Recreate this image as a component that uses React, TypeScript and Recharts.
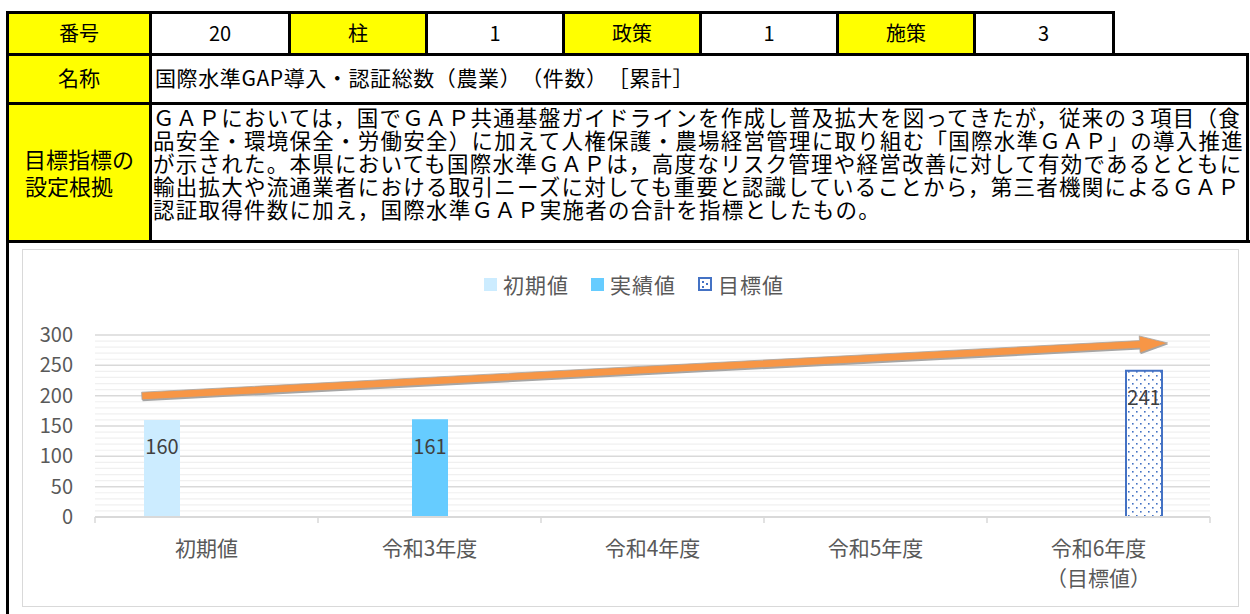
import React from "react";
import {
  BarChart,
  Bar,
  XAxis,
  YAxis,
  CartesianGrid,
  ReferenceLine,
  LabelList,
} from "recharts";

// ---- data ----
const categories = ["初期値", "令和3年度", "令和4年度", "令和5年度", "令和6年度\n（目標値）"];
const initialValues = [160, null, null, null, null];
const actualValues = [null, 161, null, null, null];
const targetValues = [null, null, null, null, 241];
const yTicks = [0, 10, 20, 30, 40, 50, 60, 70, 80, 90, 100, 110, 120, 130, 140, 150, 160, 170, 180, 190, 200, 210, 220, 230, 240, 250, 260, 270, 280, 290, 300];
// trend arrow: value at the first / last category centre, and how far (in bands) it runs past them
const arrowValues = [205, 281];
const arrowOverhang = [0.29, 0.31];

const headerCells = [
  ["番号", "20"],
  ["柱", "1"],
  ["政策", "1"],
  ["施策", "3"],
];
const nameText = "国際水準GAP導入・認証総数（農業）（件数）［累計］";
const reasonLines = [
  "ＧＡＰにおいては，国でＧＡＰ共通基盤ガイドラインを作成し普及拡大を図ってきたが，従来の３項目（食",
  "品安全・環境保全・労働安全）に加えて人権保護・農場経営管理に取り組む「国際水準ＧＡＰ」の導入推進",
  "が示された。本県においても国際水準ＧＡＰは，高度なリスク管理や経営改善に対して有効であるとともに",
  "輸出拡大や流通業者における取引ニーズに対しても重要と認識していることから，第三者機関によるＧＡＰ",
  "認証取得件数に加え，国際水準ＧＡＰ実施者の合計を指標としたもの。",
];

const data = categories.map((name, i) => ({
  name,
  initial: initialValues[i],
  actual: actualValues[i],
  target: targetValues[i],
}));

const FONT = '"Noto Sans CJK JP", "Noto Sans", sans-serif';
const YELLOW = "#ffff00";
const LIGHT = "#ccecff";
const MID = "#66ccff";
const BLUE = "#4472c4";
const TEXT = "#595959";
const AXIS = "#d9d9d9";

const cellBase: React.CSSProperties = {
  boxSizing: "border-box",
  height: "100%",
  display: "flex",
  alignItems: "center",
  justifyContent: "center",
  fontSize: 20,
};

// category label + Excel-style tick marks on the band edges
const CategoryTick = (props: any) => {
  const { x, y, payload, index, visibleTicksCount } = props;
  const half = payload && payload.offset ? payload.offset : 0;
  const lines = String(payload.value).split("\n");
  return (
    <g>
      <line x1={x - half} x2={x - half} y1={y} y2={y + 6} stroke={AXIS} strokeWidth={1.5} />
      {index === visibleTicksCount - 1 && (
        <line x1={x + half} x2={x + half} y1={y} y2={y + 6} stroke={AXIS} strokeWidth={1.5} />
      )}
      <text x={x} y={y} textAnchor="middle" fill={TEXT} fontSize={21} fontFamily={FONT}>
        {lines.map((l, i) => (
          <tspan key={i} x={x} dy={i === 0 ? 39 : 30}>
            {l}
          </tspan>
        ))}
      </text>
    </g>
  );
};

const renderArrow = (props: any) => {
  const { x1, y1, x2, y2 } = props;
  const band = (x2 - x1) / (categories.length - 1);
  const slope = (y2 - y1) / (x2 - x1);
  const sx = x1 - arrowOverhang[0] * band;
  const ex = x2 + arrowOverhang[1] * band;
  const sy = y1 + slope * (sx - x1);
  const ey = y1 + slope * (ex - x1);
  const dx = ex - sx;
  const dy = ey - sy;
  const len = Math.sqrt(dx * dx + dy * dy) || 1;
  const ux = dx / len;
  const uy = dy / len;
  const nx = -uy;
  const ny = ux;
  const headLen = 28;
  const shaft = 3.8;
  const head = 8.5;
  const bx = ex - ux * headLen;
  const by = ey - uy * headLen;
  const pts = [
    [sx + nx * shaft, sy + ny * shaft],
    [bx + nx * shaft, by + ny * shaft],
    [bx + nx * head, by + ny * head],
    [ex, ey],
    [bx - nx * head, by - ny * head],
    [bx - nx * shaft, by - ny * shaft],
    [sx - nx * shaft, sy - ny * shaft],
  ]
    .map((p) => p.join(","))
    .join(" ");
  return (
    <g>
      <polygon points={pts} fill="#a6a6a6" transform="translate(0.6,1.4)" />
      <polygon points={pts} fill="#f79646" stroke="#a6a6a6" strokeWidth={0.8} />
    </g>
  );
};

const LegendItem = ({ label, kind }: { label: string; kind: string }) => (
  <div style={{ display: "flex", alignItems: "center", marginRight: 22 }}>
    {kind === "pattern" ? (
      <svg width={14} height={14} style={{ marginRight: 6 }}>
        <rect x={1} y={1} width={12} height={12} fill="#fff" stroke={BLUE} strokeWidth={2} />
        <rect x={4} y={4} width={2} height={2} fill={BLUE} />
        <rect x={8} y={6} width={2} height={2} fill={BLUE} />
        <rect x={4} y={9} width={2} height={2} fill={BLUE} />
      </svg>
    ) : (
      <div style={{ width: 13, height: 13, background: kind, marginRight: 6 }} />
    )}
    <span style={{ fontSize: 21, color: TEXT, letterSpacing: 1 }}>{label}</span>
  </div>
);

export default function App() {
  return (
    <div
      style={{
        position: "relative",
        width: 1250,
        height: 614,
        fontFamily: FONT,
        overflow: "hidden",
        textSpacingTrim: "space-all",
      } as React.CSSProperties}
    >
      <style>{"body{margin:0}"}</style>

      {/* row 1 */}
      <div
        style={{
          position: "absolute",
          left: 6,
          top: 11,
          width: 1109,
          height: 45,
          boxSizing: "border-box",
          border: "3px solid #000",
          borderBottom: "none",
          display: "flex",
        }}
      >
        {headerCells.map(([label, value], i) => (
          <React.Fragment key={label}>
            <div
              style={{
                ...cellBase,
                width: i === 0 ? 140 : 137,
                background: YELLOW,
                paddingBottom: 5,
                borderLeft: i === 0 ? "none" : "3px solid #000",
              }}
            >
              {label}
            </div>
            <div
              style={{
                ...cellBase,
                width: i === 0 ? 139 : i === 3 ? 138 : 137,
                paddingBottom: 5,
                borderLeft: "3px solid #000",
              }}
            >
              {value}
            </div>
          </React.Fragment>
        ))}
      </div>

      {/* row 2 */}
      <div
        style={{
          position: "absolute",
          left: 6,
          top: 53,
          width: 1243,
          height: 52,
          boxSizing: "border-box",
          border: "3px solid #000",
          borderBottom: "none",
          display: "flex",
        }}
      >
        <div style={{ ...cellBase, width: 140, background: YELLOW, fontSize: 21, paddingBottom: 8 }}>名称</div>
        <div
          style={{
            ...cellBase,
            flex: 1,
            justifyContent: "flex-start",
            paddingLeft: 3,
            paddingBottom: 8,
            borderLeft: "3px solid #000",
            fontSize: 21,
            letterSpacing: 0.6,
          }}
        >
          {nameText}
        </div>
      </div>

      {/* row 3 */}
      <div
        style={{
          position: "absolute",
          left: 6,
          top: 102,
          width: 1243,
          height: 141,
          boxSizing: "border-box",
          border: "3px solid #000",
          borderBottom: "none",
          display: "flex",
        }}
      >
        <div
          style={{
            ...cellBase,
            width: 140,
            background: YELLOW,
            fontSize: 22,
            flexDirection: "column",
            lineHeight: "27px",
            paddingBottom: 4,
          }}
        >
          <div>目標指標の</div>
          <div style={{ alignSelf: "flex-start", paddingLeft: 16 }}>設定根拠</div>
        </div>
        <div
          style={{
            boxSizing: "border-box",
            flex: 1,
            borderLeft: "3px solid #000",
            paddingLeft: 1,
            paddingTop: 1,
            fontSize: 21.5,
            letterSpacing: 1.25,
            lineHeight: "22.9px",
            whiteSpace: "nowrap",
          }}
        >
          {reasonLines.map((l) => (
            <div key={l}>{l}</div>
          ))}
        </div>
      </div>

      {/* row 4: chart */}
      <div
        style={{
          position: "absolute",
          left: 6,
          top: 240,
          width: 1244,
          height: 380,
          boxSizing: "border-box",
          borderTop: "3px solid #000",
          borderLeft: "3px solid #000",
        }}
      />
      <div
        style={{
          position: "absolute",
          left: 22,
          top: 249,
          width: 1217,
          height: 358,
          boxSizing: "border-box",
          border: "1px solid " + AXIS,
          background: "#fff",
        }}
      >
        <div
          style={{
            position: "absolute",
            left: 461,
            top: 19,
            display: "flex",
            alignItems: "center",
          }}
        >
          <LegendItem label="初期値" kind={LIGHT} />
          <LegendItem label="実績値" kind={MID} />
          <LegendItem label="目標値" kind="pattern" />
        </div>
        <BarChart
          width={1215}
          height={356}
          data={data}
          margin={{ top: 85, right: 28, bottom: 0, left: 0 }}
          barGap={9}
          barSize={36}
          style={{ fontFamily: FONT }}
        >
          <defs>
            <pattern id="dots" width={8} height={8} patternUnits="userSpaceOnUse">
              <rect width={8} height={8} fill="#fff" />
              <rect x={1} y={1} width={1.6} height={1.6} fill={BLUE} />
              <rect x={5} y={5} width={1.6} height={1.6} fill={BLUE} />
            </pattern>
          </defs>
          <CartesianGrid
            vertical={false}
            horizontal={(p: any) => (
              <line
                key={p.key}
                x1={p.x1}
                y1={p.y1}
                x2={p.x2}
                y2={p.y2}
                stroke={p.index % 5 === 0 ? AXIS : "#f0f0f0"}
                strokeWidth={p.index % 5 === 0 ? 1.5 : 1.2}
              />
            )}
          />
          <XAxis
            dataKey="name"
            height={89}
            axisLine={{ stroke: AXIS, strokeWidth: 2 }}
            tickLine={false}
            tickSize={0}
            tickMargin={0}
            interval={0}
            tick={<CategoryTick />}
          />
          <YAxis
            domain={[0, 300]}
            ticks={yTicks}
            interval={0}
            width={72}
            axisLine={false}
            tickLine={false}
            tickSize={0}
            tickMargin={22}
            tickFormatter={(v: number) => (v % 50 === 0 ? String(v) : "")}
            tick={{ fill: TEXT, fontSize: 20, fontFamily: FONT }}
          />
          <Bar dataKey="initial" fill={LIGHT} isAnimationActive={false}>
            <LabelList dataKey="initial" position="insideTop" offset={20} fill="#404040" fontSize={20} />
          </Bar>
          <Bar dataKey="actual" fill={MID} isAnimationActive={false}>
            <LabelList dataKey="actual" position="insideTop" offset={20} fill="#404040" fontSize={20} />
          </Bar>
          <Bar dataKey="target" fill="url(#dots)" stroke={BLUE} strokeWidth={2} isAnimationActive={false}>
            <LabelList dataKey="target" position="insideTop" offset={20} fill="#404040" fontSize={20} />
          </Bar>
          <ReferenceLine
            ifOverflow="visible"
            segment={[
              { x: categories[0], y: arrowValues[0] },
              { x: categories[categories.length - 1], y: arrowValues[1] },
            ]}
            shape={renderArrow}
          />
        </BarChart>
      </div>
    </div>
  );
}
